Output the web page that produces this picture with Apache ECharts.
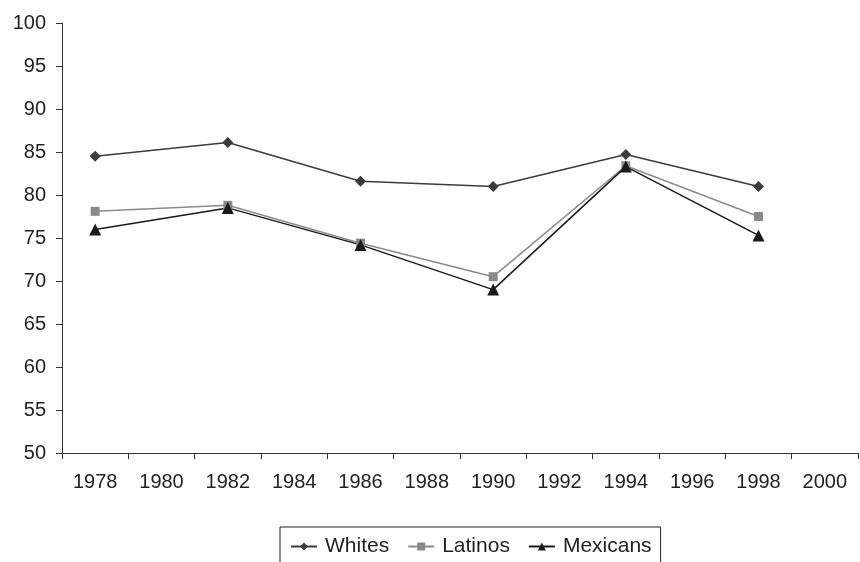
<!DOCTYPE html>
<html>
<head>
<meta charset="utf-8">
<style>html,body{margin:0;padding:0;background:#fff;}#c{width:860px;height:562px;}</style>
<script src="https://cdn.jsdelivr.net/npm/echarts@6/dist/echarts.min.js"></script>
</head>
<body>
<div id="c"></div>
<script>
var years = ['1978','1980','1982','1984','1986','1988','1990','1992','1994','1996','1998','2000'];
var whites   = [84.5, null, 86.1, null, 81.6, null, 81.0, null, 84.7, null, 81.0, null];
var latinos  = [78.1, null, 78.8, null, 74.4, null, 70.5, null, 83.4, null, 77.5, null];
var mexicans = [76.0, null, 78.5, null, 74.2, null, 69.0, null, 83.3, null, 75.3, null];
var yTicks = {min: 50, max: 100, interval: 5};

var chart = echarts.init(document.getElementById('c'), null, {renderer: 'canvas'});
var font = 'Liberation Sans, Arial, sans-serif';
function ser(name, data, sym, size, color, lineColor) {
  return {
    name: name, type: 'line', data: data, connectNulls: true,
    symbol: sym, symbolSize: size, showSymbol: true,
    itemStyle: {color: color},
    lineStyle: {color: lineColor, width: 1.5},
    emphasis: {disabled: true}, animation: false
  };
}
chart.setOption({
  animation: false,
  grid: {left: 62, right: 2, top: 23, bottom: 109, containLabel: false},
  legend: {
    left: 280, top: 527,
    padding: [9, 9, 30, 10],
    itemGap: 18, itemWidth: 26, itemHeight: 10,
    borderColor: '#222', borderWidth: 1,
    textStyle: {fontFamily: font, fontSize: 21, color: '#222', padding: [0, 0, 0, 3]},
    data: ['Whites', 'Latinos', 'Mexicans']
  },
  xAxis: {
    type: 'category', data: years, boundaryGap: true,
    axisLine: {lineStyle: {color: '#333', width: 1}},
    axisTick: {show: true, length: 6, lineStyle: {color: '#333'}, interval: 0},
    axisLabel: {interval: 0, fontFamily: font, fontSize: 20, color: '#222', margin: 19},
    splitLine: {show: false}
  },
  yAxis: {
    type: 'value', min: yTicks.min, max: yTicks.max, interval: yTicks.interval,
    axisLine: {show: true, lineStyle: {color: '#333', width: 1}},
    axisTick: {show: true, length: 6, lineStyle: {color: '#333'}},
    axisLabel: {fontFamily: font, fontSize: 20, color: '#222', margin: 16},
    splitLine: {show: false}
  },
  series: [
    ser('Whites', whites, 'diamond', 11, '#3c3c3c', '#3c3c3c'),
    ser('Latinos', latinos, 'rect', 9, '#8a8a8a', '#8a8a8a'),
    ser('Mexicans', mexicans, 'triangle', 12, '#1a1a1a', '#1a1a1a')
  ]
});
</script>
</body>
</html>
